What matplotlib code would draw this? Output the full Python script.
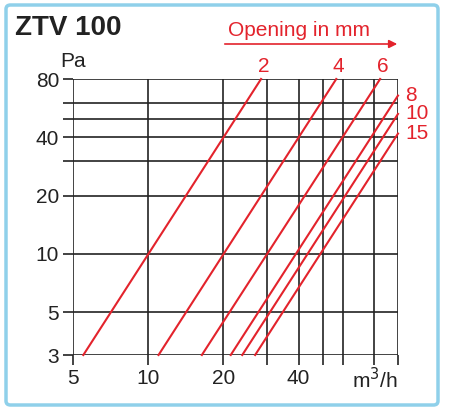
import matplotlib
matplotlib.use("Agg")
import matplotlib.pyplot as plt
from matplotlib.patches import FancyBboxPatch

plt.rcParams['font.family'] = ['Liberation Sans', 'DejaVu Sans']

openings = ["2", "4", "6", "8", "10", "15"]
flow_start = [5.5, 11.0, 16.4, 21.4, 23.8, 26.8]
flow_end = [28.3, 56.6, 84.8, 100, 100, 100]
press_start = [3, 3, 3, 3, 3, 3]
press_end = [80, 80, 80, 65.7, 52.8, 41.8]
x_grid = [5, 10, 20, 30, 40, 50, 60, 80, 100]
y_grid = [3, 5, 10, 20, 30, 40, 50, 60, 80]
x_labels = {5: "5", 10: "10", 20: "20", 40: "40"}
y_labels = {3: "3", 5: "5", 10: "10", 20: "20", 40: "40", 80: "80"}

red = "#e3232c"
W, H = 450, 411
fig = plt.figure(figsize=(W/100, H/100), dpi=100)
fig.patches.append(FancyBboxPatch((6/W, 6/H), 432/W, 400/H, boxstyle="round,pad=0,rounding_size=0.01",
                                  transform=fig.transFigure, fill=False, ec="#8fd0ea", lw=2.5))
ax = fig.add_axes([73/W, 1-355/H, 325/W, 276/H])
ax.set_xscale("log"); ax.set_yscale("log")
ax.set_xlim(5, 100); ax.set_ylim(3, 80)
for s in ax.spines.values():
    s.set_visible(False)
for x in x_grid:
    ax.axvline(x, color="#222", lw=1.2)
for y in y_grid:
    ax.axhline(y, color="#222", lw=1.2)
ax.xaxis.set_minor_locator(matplotlib.ticker.NullLocator())
ax.yaxis.set_minor_locator(matplotlib.ticker.NullLocator())
ax.set_xticks(x_grid, [x_labels.get(x, "") for x in x_grid])
ax.set_yticks(y_grid, [y_labels.get(y, "") for y in y_grid])
ax.tick_params(length=7, width=1.2, color="#222", labelsize=15, labelcolor="#222", pad=3)
for i, lab in enumerate(openings):
    ax.plot([flow_start[i], flow_end[i]], [press_start[i], press_end[i]], color=red, lw=1.5, clip_on=False)
    if press_end[i] >= 80:
        ax.text(flow_end[i]*0.97, 83, lab, color=red, fontsize=15, ha="left", va="bottom")
    else:
        ax.text(107, press_end[i], lab, color=red, fontsize=15, ha="left", va="center")
ax.text(-0.04, 1.03, "Pa", transform=ax.transAxes, fontsize=15, ha="left", va="bottom", color="#222")
ax.text(1.0, -0.045, "m$^3$/h", transform=ax.transAxes, fontsize=15, ha="right", va="top", color="#222")
fig.text(15/W, 1-28/H, "ZTV 100", fontsize=20, fontweight="bold", va="center", ha="left", color="#222")
fig.text(228/W, 1-30/H, "Opening in mm", fontsize=15, color=red, va="center", ha="left")
fig.add_artist(plt.Annotation("", xy=(400/W, 1-44/H), xytext=(222/W, 1-44/H), xycoords="figure fraction",
                              arrowprops=dict(arrowstyle="-|>", color=red, lw=1.2, mutation_scale=12)))
fig.savefig("out.png", dpi=100)
